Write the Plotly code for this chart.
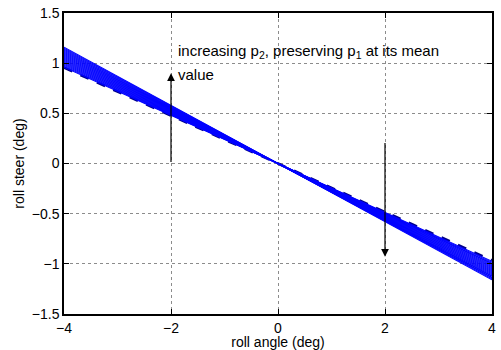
import plotly.graph_objects as go

# roll angle grid (deg) at which each curve is sampled
roll_angle = [-4, 0, 4]

# roll steer (deg) of each p2 sample curve at roll angle -4 and +4
steer_left = [0.96, 0.97, 0.98, 0.99, 1.0, 1.01, 1.02, 1.03, 1.04, 1.05,
              1.06, 1.07, 1.08, 1.09, 1.10, 1.11, 1.12, 1.13, 1.14, 1.15, 1.16]
steer_right = [-0.975, -0.985, -0.995, -1.0, -1.01, -1.02, -1.03, -1.04,
               -1.05, -1.06, -1.07, -1.08, -1.09, -1.10, -1.11, -1.12,
               -1.125, -1.135, -1.14, -1.15, -1.16]

# mean curve (dashed)
mean_steer = [0.955, 0.0, -0.965]

# arrows: (x, y_start, y_end)
arrow_x = [-2, 2]
arrow_from = [0.0, 0.22]
arrow_to = [0.9, -0.93]

note_lines = ["increasing p<sub>2</sub>, preserving p<sub>1</sub> at its mean", "value"]
note_y = [1.12, 0.89]

FONT = "Liberation Sans, Arial"

fig = go.Figure()
fig.add_trace(go.Scatter(x=roll_angle, y=mean_steer, mode="lines",
                         line=dict(color="#00008b", width=2.5, dash="dash"),
                         showlegend=False, hoverinfo="skip"))
for a, b in zip(steer_left, steer_right):
    fig.add_trace(go.Scatter(x=roll_angle, y=[a, 0.0, b], mode="lines",
                             line=dict(color="#0000ff", width=1.1),
                             showlegend=False, hoverinfo="skip"))

for xa, y0, y1 in zip(arrow_x, arrow_from, arrow_to):
    fig.add_annotation(x=xa, y=y1, ax=xa, ay=y0, xref="x", yref="y",
                       axref="x", ayref="y", showarrow=True, arrowhead=2,
                       arrowsize=1.3, arrowwidth=1.2, arrowcolor="black", text="")

for txt, yy in zip(note_lines, note_y):
    fig.add_annotation(x=-1.9, y=yy, xref="x", yref="y", text=txt,
                       showarrow=False, xanchor="left", yanchor="middle", align="left",
                       font=dict(family=FONT, size=15, color="black"))

axis_common = dict(showline=True, linecolor="black", linewidth=1.5, mirror="ticks",
                   ticks="inside", ticklen=5, tickcolor="black",
                   showgrid=True, gridcolor="#8c8c8c", griddash="dot", gridwidth=1,
                   zeroline=False,
                   tickfont=dict(family=FONT, size=14, color="black"))

fig.update_xaxes(range=[-4, 4], tickvals=[-4, -2, 0, 2, 4],
                 title=dict(text="roll angle (deg)", standoff=0,
                            font=dict(family=FONT, size=14, color="black")),
                 **axis_common)
fig.update_yaxes(range=[-1.5, 1.5], tickvals=[-1.5, -1, -0.5, 0, 0.5, 1, 1.5],
                 title=dict(text="roll steer (deg)", standoff=4,
                            font=dict(family=FONT, size=14, color="black")),
                 **axis_common)

fig.update_layout(width=501, height=350, margin=dict(l=64, r=5, t=13, b=35),
                  plot_bgcolor="white", paper_bgcolor="white", showlegend=False)

fig.write_html("out.html")
